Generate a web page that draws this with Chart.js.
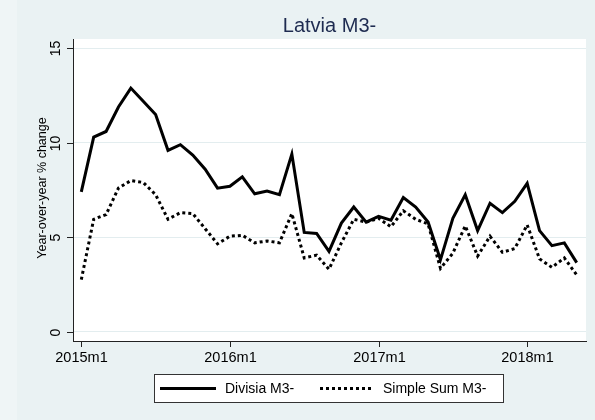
<!DOCTYPE html>
<html>
<head>
<meta charset="utf-8">
<script src="https://cdn.jsdelivr.net/npm/chart.js@4.4.1/dist/chart.umd.min.js"></script>
<style>
  html, body { margin: 0; padding: 0; background: #eaf2f3; }
  canvas { display: block; }
</style>
</head>
<body>
<canvas id="myLineChart" width="595" height="420"></canvas>
<script>
// monthly categories, 2015m1 .. 2018m5
var months = [
  "2015m1","2015m2","2015m3","2015m4","2015m5","2015m6","2015m7","2015m8","2015m9","2015m10","2015m11","2015m12",
  "2016m1","2016m2","2016m3","2016m4","2016m5","2016m6","2016m7","2016m8","2016m9","2016m10","2016m11","2016m12",
  "2017m1","2017m2","2017m3","2017m4","2017m5","2017m6","2017m7","2017m8","2017m9","2017m10","2017m11","2017m12",
  "2018m1","2018m2","2018m3","2018m4","2018m5"
];

// year-over-year % change
var divisia = [
  7.4, 10.3, 10.6, 11.9, 12.9, 12.2, 11.5, 9.6, 9.9, 9.35, 8.6, 7.6,
  7.7, 8.2, 7.3, 7.45, 7.25, 9.4, 5.25, 5.2, 4.25, 5.75, 6.6, 5.8,
  6.1, 5.9, 7.1, 6.6, 5.8, 3.8, 6.0, 7.25, 5.35, 6.8, 6.3, 6.9,
  7.85, 5.35, 4.55, 4.7, 3.65
];
var simpleSum = [
  2.75, 5.95, 6.2, 7.6, 8.0, 7.9, 7.25, 5.95, 6.3, 6.25, 5.45, 4.65,
  5.05, 5.1, 4.7, 4.8, 4.7, 6.25, 3.9, 4.05, 3.3, 4.7, 5.95, 5.8,
  6.0, 5.55, 6.4, 5.95, 5.7, 3.35, 4.15, 5.6, 4.0, 5.05, 4.2, 4.4,
  5.65, 3.85, 3.4, 3.9, 3.0
];

var xTickLabels = ["2015m1", "2016m1", "2017m1", "2018m1"];
var yTicks = [0, 5, 10, 15];

var fontFamily = "'Liberation Sans', Arial, sans-serif";

function toPoints(arr) {
  return arr.map(function (v, i) { return { x: i, y: v }; });
}

var stataDecor = {
  id: "stataDecor",
  beforeDraw: function (chart) {
    var ctx = chart.ctx, a = chart.chartArea;
    ctx.save();
    ctx.fillStyle = "#eaf2f3";
    ctx.fillRect(0, 0, chart.width, chart.height);
    ctx.fillStyle = "#eff5f6";
    ctx.fillRect(0, 0, 17, chart.height);
    ctx.fillStyle = "#ffffff";
    ctx.fillRect(a.left, a.top, a.right - a.left, a.bottom - a.top);
    ctx.restore();
  },
  afterDraw: function (chart) {
    var ctx = chart.ctx, a = chart.chartArea;
    var xs = chart.scales.x, ys = chart.scales.y;
    ctx.save();
    ctx.strokeStyle = "#222";
    ctx.lineWidth = 1;
    ctx.fillStyle = "#000";

    // x ticks + labels
    ctx.font = "14.5px " + fontFamily;
    ctx.textAlign = "center";
    ctx.textBaseline = "top";
    xTickLabels.forEach(function (lab) {
      var px = Math.round(xs.getPixelForValue(months.indexOf(lab))) + 0.5;
      ctx.beginPath();
      ctx.moveTo(px, a.bottom);
      ctx.lineTo(px, a.bottom + 6);
      ctx.stroke();
      ctx.fillText(lab, px, a.bottom + 10);
    });

    // y ticks + rotated labels
    ctx.font = "14px " + fontFamily;
    yTicks.forEach(function (v) {
      var py = Math.round(ys.getPixelForValue(v)) + 0.5;
      ctx.beginPath();
      ctx.moveTo(a.left - 6, py);
      ctx.lineTo(a.left, py);
      ctx.stroke();
      ctx.save();
      ctx.translate(a.left - 13.5, py);
      ctx.rotate(-Math.PI / 2);
      ctx.textAlign = "center";
      ctx.textBaseline = "alphabetic";
      ctx.fillText(String(v), 0, 0);
      ctx.restore();
    });

    // y axis title
    ctx.save();
    ctx.font = "12.5px " + fontFamily;
    ctx.translate(46, (a.top + a.bottom) / 2 - 2);
    ctx.rotate(-Math.PI / 2);
    ctx.textAlign = "center";
    ctx.textBaseline = "alphabetic";
    ctx.fillText("Year-over-year % change", 0, 0);
    ctx.restore();

    // title
    ctx.font = "20px " + fontFamily;
    ctx.fillStyle = "#1e2b50";
    ctx.textAlign = "center";
    ctx.textBaseline = "alphabetic";
    ctx.fillText("Latvia M3-", (a.left + a.right) / 2, 32);

    // legend
    ctx.fillStyle = "#ffffff";
    ctx.fillRect(154.5, 374.5, 349, 28);
    ctx.strokeStyle = "#333";
    ctx.strokeRect(154.5, 374.5, 349, 28);
    ctx.strokeStyle = "#000";
    ctx.lineWidth = 3;
    ctx.beginPath();
    ctx.moveTo(160, 388.5);
    ctx.lineTo(216, 388.5);
    ctx.stroke();
    ctx.setLineDash([3, 3]);
    ctx.beginPath();
    ctx.moveTo(320, 388.5);
    ctx.lineTo(372, 388.5);
    ctx.stroke();
    ctx.setLineDash([]);
    ctx.fillStyle = "#000";
    ctx.font = "14px " + fontFamily;
    ctx.textAlign = "left";
    ctx.textBaseline = "middle";
    ctx.fillText("Divisia M3-", 225, 389);
    ctx.fillText("Simple Sum M3-", 383, 389);
    ctx.restore();
  }
};

var lineCtx = document.getElementById("myLineChart");
if (lineCtx) {
  new Chart(lineCtx, {
    type: "line",
    data: {
      datasets: [
        {
          label: "Divisia M3-",
          data: toPoints(divisia),
          borderColor: "#000",
          borderWidth: 3,
          pointRadius: 0,
          tension: 0,
          fill: false
        },
        {
          label: "Simple Sum M3-",
          data: toPoints(simpleSum),
          borderColor: "#000",
          borderWidth: 3,
          borderDash: [3, 3],
          pointRadius: 0,
          tension: 0,
          fill: false
        }
      ]
    },
    options: {
      responsive: false,
      animation: false,
      devicePixelRatio: 1,
      layout: { padding: { left: 73, right: 9, top: 39, bottom: 79 } },
      plugins: { legend: { display: false }, title: { display: false }, tooltip: { enabled: false } },
      scales: {
        x: {
          type: "linear",
          min: -0.67,
          max: 40.75,
          grid: { display: false, drawTicks: false },
          border: { display: true, color: "#222", width: 1 },
          ticks: { display: false }
        },
        y: {
          min: -0.5,
          max: 15.5,
          afterBuildTicks: function (scale) {
            scale.ticks = yTicks.map(function (v) { return { value: v }; });
          },
          grid: { color: "#e3edef", lineWidth: 1, drawTicks: false },
          border: { display: true, color: "#222", width: 1 },
          ticks: { display: false }
        }
      }
    },
    plugins: [stataDecor]
  });
}
</script>
</body>
</html>
